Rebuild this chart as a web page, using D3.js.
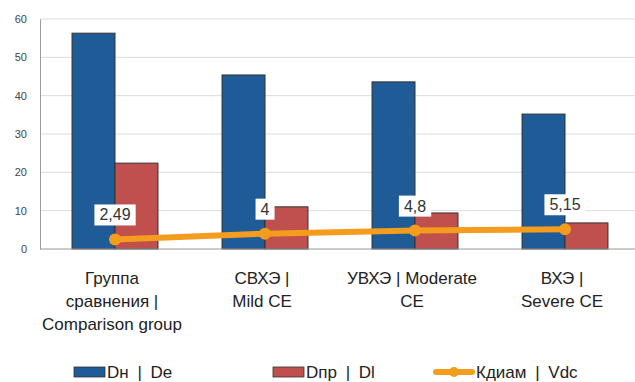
<!DOCTYPE html>
<html>
<head>
<meta charset="utf-8">
<script src="https://cdn.jsdelivr.net/npm/d3@7"></script>
<style>
  html, body { margin: 0; padding: 0; background: #fff; }
  svg { display: block; font-family: "Liberation Sans", Arial, sans-serif; }
</style>
</head>
<body>
<svg id="chart" width="635" height="382"></svg>
<script>
// Categories (multi-line labels) and series
const categories = ["Группа сравнения | Comparison group", "СВХЭ | Mild CE", "УВХЭ | Moderate CE", "ВХЭ | Severe CE"];
const categoryLines = [
  ["Группа", "сравнения |", "Comparison group"],
  ["СВХЭ |", "Mild CE"],
  ["УВХЭ | Moderate", "CE"],
  ["ВХЭ |", "Severe CE"]
];
const seriesNames = ["Dн | De", "Dпр | Dl", "Кдиам | Vdc"];
const dnValues = [56.3, 45.4, 43.6, 35.2];
const dprValues = [22.4, 11.0, 9.4, 6.8];
const vdcValues = [2.49, 4, 4.8, 5.15];
const vdcLabels = ["2,49", "4", "4,8", "5,15"];
const yTicks = [0, 10, 20, 30, 40, 50, 60];

const colors = { dn: "#1F5B96", dpr: "#C0504D", vdc: "#F39C1E" };

const svg = d3.select("#chart");
const plotLeft = 40, plotRight = 640, plotTop = 19, plotBottom = 249;

const x0 = d3.scaleBand().domain(categories).range([plotLeft, plotRight])
  .paddingInner(0.427).paddingOuter(0.2135);
const x1 = d3.scaleBand().domain(["dn", "dpr"]).range([0, x0.bandwidth()]);
const y = d3.scaleLinear().domain([0, 60]).range([plotBottom, plotTop]);

// Gridlines
svg.append("g").selectAll("line").data(yTicks.filter(t => t > 0)).join("line")
  .attr("x1", plotLeft).attr("x2", 635)
  .attr("y1", d => y(d)).attr("y2", d => y(d))
  .attr("stroke", "#dcdcdc").attr("stroke-width", 1);

// Y axis
const yAxis = d3.axisLeft(y).tickValues(yTicks).tickSize(0).tickPadding(13);
const gy = svg.append("g").attr("transform", `translate(${plotLeft},0)`).call(yAxis);
gy.select(".domain").attr("stroke", "#9a9a9a");
gy.selectAll("text").attr("font-size", 11).attr("fill", "#444")
  .attr("font-family", "Liberation Sans, Arial, sans-serif");

// Bars
const groups = svg.append("g").selectAll("g").data(categories).join("g")
  .attr("transform", d => `translate(${x0(d)},0)`);
groups.append("rect")
  .attr("x", x1("dn")).attr("width", x1.bandwidth())
  .attr("y", (d, i) => y(dnValues[i])).attr("height", (d, i) => y(0) - y(dnValues[i]))
  .attr("fill", colors.dn).attr("stroke", "#333").attr("stroke-width", 1);
groups.append("rect")
  .attr("x", x1("dpr")).attr("width", x1.bandwidth())
  .attr("y", (d, i) => y(dprValues[i])).attr("height", (d, i) => y(0) - y(dprValues[i]))
  .attr("fill", colors.dpr).attr("stroke", "#333").attr("stroke-width", 1);

// X axis baseline
svg.append("line").attr("x1", plotLeft).attr("x2", 635)
  .attr("y1", y(0)).attr("y2", y(0)).attr("stroke", "#9a9a9a").attr("stroke-width", 1.2);

// Vdc line
const cx = c => x0(c) + x0.bandwidth() / 2;
const line = d3.line().x((d, i) => cx(categories[i])).y(d => y(d));
svg.append("path").datum(vdcValues)
  .attr("d", line).attr("fill", "none")
  .attr("stroke", colors.vdc).attr("stroke-width", 6).attr("stroke-linecap", "round");
svg.append("g").selectAll("circle").data(vdcValues).join("circle")
  .attr("cx", (d, i) => cx(categories[i])).attr("cy", d => y(d)).attr("r", 6)
  .attr("fill", colors.vdc);

// Value labels with white boxes
const lbl = svg.append("g").selectAll("g").data(vdcValues).join("g")
  .attr("transform", (d, i) => `translate(${cx(categories[i])},${y(d) - 19})`);
const lblText = lbl.append("text").attr("text-anchor", "middle")
  .attr("font-size", 16).attr("fill", "#333")
  .text((d, i) => vdcLabels[i]);
lblText.each(function () {
  const b = this.getBBox();
  d3.select(this.parentNode).insert("rect", "text")
    .attr("x", b.x - 5).attr("y", b.y - 2)
    .attr("width", b.width + 10).attr("height", b.height + 4)
    .attr("fill", "#fff");
});

// Category labels
const cat = svg.append("g").selectAll("text").data(categories).join("text")
  .attr("text-anchor", "middle").attr("font-size", 17).attr("fill", "#222")
  .attr("x", d => cx(d) - 3).attr("y", 284);
cat.selectAll("tspan").data((d, i) => categoryLines[i]).join("tspan")
  .attr("x", function () { return d3.select(this.parentNode).attr("x"); })
  .attr("dy", (d, j) => j === 0 ? 0 : 23)
  .text(d => d);

// Legend
const legend = svg.append("g").attr("font-size", 17).attr("fill", "#222");
const legendItems = [
  { name: seriesNames[0], type: "bar", color: colors.dn, x: 74 },
  { name: seriesNames[1], type: "bar", color: colors.dpr, x: 273 },
  { name: seriesNames[2], type: "line", color: colors.vdc, x: 436 }
];
const ly = 372;
legendItems.forEach(it => {
  if (it.type === "bar") {
    legend.append("rect").attr("x", it.x).attr("y", ly - 5).attr("width", 31).attr("height", 10)
      .attr("fill", it.color).attr("stroke", "#333").attr("stroke-width", 0.8);
    legend.append("text").attr("x", it.x + 33).attr("y", ly + 6).attr("word-spacing", 4).text(it.name);
  } else {
    legend.append("line").attr("x1", it.x).attr("x2", it.x + 36).attr("y1", ly).attr("y2", ly)
      .attr("stroke", it.color).attr("stroke-width", 6).attr("stroke-linecap", "round");
    legend.append("circle").attr("cx", it.x + 18).attr("cy", ly).attr("r", 5).attr("fill", it.color);
    legend.append("text").attr("x", it.x + 40).attr("y", ly + 6).attr("word-spacing", 4).text(it.name);
  }
});
</script>
</body>
</html>
